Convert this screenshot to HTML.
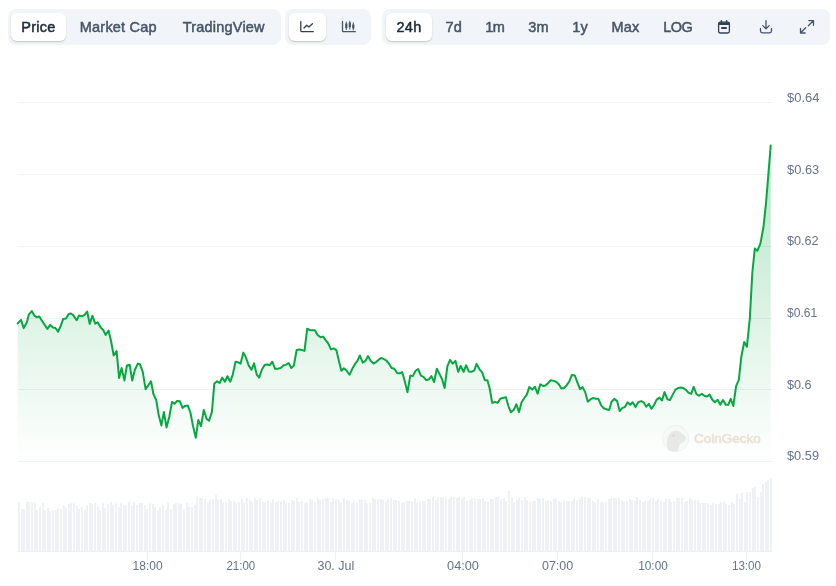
<!DOCTYPE html>
<html><head><meta charset="utf-8"><title>Price chart</title>
<style>
html,body{margin:0;padding:0;background:#fff;}
body{width:836px;height:586px;overflow:hidden;position:relative;font-family:"Liberation Sans",sans-serif;}
.grp{position:absolute;top:9px;height:36px;background:#f1f5f9;border-radius:8px;}
.pill{position:absolute;top:4px;height:28px;background:#fff;border-radius:6px;box-shadow:0 1px 1.5px rgba(120,95,70,.32);}
.lb{position:absolute;top:0;height:36px;line-height:36px;font-size:14.5px;font-weight:400;letter-spacing:.2px;-webkit-text-stroke:.5px #475569;color:#475569;white-space:nowrap;transform:translateX(-50%);}
.lb.sel{color:#1e293b;-webkit-text-stroke-color:#1e293b;}
.ic{position:absolute;top:0;}
svg text{font-family:"Liberation Sans",sans-serif;}
</style></head><body>
<div class="grp" style="left:8px;width:273px">
 <div class="pill" style="left:3px;width:55px"></div>
 <span class="lb sel" style="left:30.4px">Price</span>
 <span class="lb" style="left:110.3px">Market Cap</span>
 <span class="lb" style="left:215.8px">TradingView</span>
</div>
<div class="grp" style="left:285px;width:86px">
 <div class="pill" style="left:4px;width:37px"></div>
 <svg class="ic" style="left:14px;top:11px" width="16" height="14" viewBox="0 0 16 14" fill="none" stroke="#334155" stroke-width="1.3" stroke-linecap="round" stroke-linejoin="round"><path d="M1.8 1.5v9.2q0 1 1 1h11.5"/><path d="M5 8l2.7-2.8 2.2 1.8 3.6-3.2"/></svg>
 <svg class="ic" style="left:56px;top:11px" width="16" height="14" viewBox="0 0 16 14" fill="none" stroke="#475569" stroke-width="1.3" stroke-linecap="round" stroke-linejoin="round"><path d="M1.5 1.5v9.2q0 1 1 1h11.8"/><path d="M5.3 2v7.6M8.8 1.2v8M12.3 2.8v7.2" stroke-width="1"/><path d="M5.3 3.6v4.6M8.8 2.6v4.6M12.3 4.6v3.8" stroke-width="2.2" stroke-linecap="butt"/></svg>
</div>
<div class="grp" style="left:382px;width:448px">
 <div class="pill" style="left:3.500px;width:46.500px"></div>
 <span class="lb sel" style="left:27px">24h</span>
 <span class="lb" style="left:71.8px">7d</span>
 <span class="lb" style="left:112.800px;letter-spacing:-.4px">1m</span>
 <span class="lb" style="left:156.5px">3m</span>
 <span class="lb" style="left:198px">1y</span>
 <span class="lb" style="left:243.5px">Max</span>
 <span class="lb" style="left:295.800px;letter-spacing:-.5px">LOG</span>
 <svg class="ic" style="left:334.2px;top:10px" width="16" height="16" viewBox="0 0 16 16" fill="none" stroke="#334155" stroke-width="1.3" stroke-linejoin="round"><rect x="2.6" y="3.2" width="10.8" height="10.8" rx="1.7"/><path d="M2.6 4.7h10.8" stroke-width="2.6"/><path d="M5.4 1.8v1.6M10.6 1.8v1.6" stroke-linecap="round" stroke-width="1.5"/><path d="M5.2 9h5.6" stroke-width="2"/></svg>
 <svg class="ic" style="left:375.7px;top:10px" width="16" height="16" viewBox="0 0 16 16" fill="none" stroke="#475569" stroke-width="1.3" stroke-linecap="round" stroke-linejoin="round"><path d="M8 1.600v8M4.800 6.600L8 9.800l3.200-3.200"/><path d="M2.500 9.400v2.700q0 1.800 1.800 1.800h7.400q1.800 0 1.800-1.800V9.400"/></svg>
 <svg class="ic" style="left:417.1px;top:10px" width="16" height="16" viewBox="0 0 16 16" fill="none" stroke="#475569" stroke-width="1.3" stroke-linecap="round" stroke-linejoin="round"><path d="M9.800 1.600h4.700v4.700M14.300 1.800L9.300 6.800M6.200 14H1.500V9.300M1.700 13.800l5-5"/></svg>
</div>
<svg width="836" height="586" viewBox="0 0 836 586" style="position:absolute;left:0;top:0">
<defs><linearGradient id="g" gradientUnits="userSpaceOnUse" x1="0" y1="145" x2="0" y2="461"><stop offset="0" stop-color="#06a840" stop-opacity=".30"/><stop offset="1" stop-color="#06a840" stop-opacity="0"/></linearGradient></defs>
<g stroke="#eef1f5" stroke-width="1" shape-rendering="crispEdges"><line x1="18" x2="772" y1="102.5" y2="102.5"/><line x1="18" x2="772" y1="174.5" y2="174.5"/><line x1="18" x2="772" y1="246.5" y2="246.5"/><line x1="18" x2="772" y1="318.5" y2="318.5"/><line x1="18" x2="772" y1="389.5" y2="389.5"/><line x1="18" x2="772" y1="461.5" y2="461.5"/></g>
<g fill="#eef1f5" shape-rendering="crispEdges"><rect x="18" y="502" width="2" height="49"/><rect x="21" y="509" width="2" height="42"/><rect x="23" y="509" width="2" height="42"/><rect x="26" y="502" width="2" height="49"/><rect x="28" y="502" width="2" height="49"/><rect x="31" y="502" width="2" height="49"/><rect x="34" y="502" width="2" height="49"/><rect x="36" y="510" width="2" height="41"/><rect x="39" y="507" width="2" height="44"/><rect x="42" y="503" width="2" height="48"/><rect x="44" y="510" width="2" height="41"/><rect x="47" y="508" width="2" height="43"/><rect x="49" y="511" width="2" height="40"/><rect x="52" y="510" width="2" height="41"/><rect x="55" y="510" width="2" height="41"/><rect x="57" y="508" width="2" height="43"/><rect x="60" y="509" width="2" height="42"/><rect x="63" y="505" width="2" height="46"/><rect x="65" y="508" width="2" height="43"/><rect x="68" y="504" width="2" height="47"/><rect x="70" y="503" width="2" height="48"/><rect x="73" y="503" width="2" height="48"/><rect x="76" y="506" width="2" height="45"/><rect x="78" y="509" width="2" height="42"/><rect x="81" y="507" width="2" height="44"/><rect x="84" y="510" width="2" height="41"/><rect x="86" y="505" width="2" height="46"/><rect x="89" y="503" width="2" height="48"/><rect x="91" y="504" width="2" height="47"/><rect x="94" y="503" width="2" height="48"/><rect x="97" y="507" width="2" height="44"/><rect x="99" y="510" width="2" height="41"/><rect x="102" y="503" width="2" height="48"/><rect x="104" y="508" width="2" height="43"/><rect x="107" y="504" width="2" height="47"/><rect x="110" y="502" width="2" height="49"/><rect x="112" y="505" width="2" height="46"/><rect x="115" y="503" width="2" height="48"/><rect x="118" y="507" width="2" height="44"/><rect x="120" y="503" width="2" height="48"/><rect x="123" y="506" width="2" height="45"/><rect x="125" y="505" width="2" height="46"/><rect x="128" y="502" width="2" height="49"/><rect x="131" y="506" width="2" height="45"/><rect x="133" y="502" width="2" height="49"/><rect x="136" y="505" width="2" height="46"/><rect x="139" y="503" width="2" height="48"/><rect x="141" y="503" width="2" height="48"/><rect x="144" y="505" width="2" height="46"/><rect x="146" y="509" width="2" height="42"/><rect x="149" y="503" width="2" height="48"/><rect x="152" y="504" width="2" height="47"/><rect x="154" y="507" width="2" height="44"/><rect x="157" y="510" width="2" height="41"/><rect x="159" y="507" width="2" height="44"/><rect x="162" y="505" width="2" height="46"/><rect x="165" y="510" width="2" height="41"/><rect x="167" y="502" width="2" height="49"/><rect x="170" y="509" width="2" height="42"/><rect x="173" y="504" width="2" height="47"/><rect x="175" y="503" width="2" height="48"/><rect x="178" y="503" width="2" height="48"/><rect x="180" y="504" width="2" height="47"/><rect x="183" y="509" width="2" height="42"/><rect x="186" y="503" width="2" height="48"/><rect x="188" y="507" width="2" height="44"/><rect x="191" y="507" width="2" height="44"/><rect x="194" y="505" width="2" height="46"/><rect x="196" y="497" width="2" height="54"/><rect x="199" y="498" width="2" height="53"/><rect x="201" y="498" width="2" height="53"/><rect x="204" y="499" width="2" height="52"/><rect x="207" y="502" width="2" height="49"/><rect x="209" y="500" width="2" height="51"/><rect x="212" y="499" width="2" height="52"/><rect x="215" y="495" width="2" height="56"/><rect x="217" y="500" width="2" height="51"/><rect x="220" y="499" width="2" height="52"/><rect x="222" y="502" width="2" height="49"/><rect x="225" y="502" width="2" height="49"/><rect x="228" y="499" width="2" height="52"/><rect x="230" y="501" width="2" height="50"/><rect x="233" y="501" width="2" height="50"/><rect x="235" y="503" width="2" height="48"/><rect x="238" y="502" width="2" height="49"/><rect x="241" y="499" width="2" height="52"/><rect x="243" y="503" width="2" height="48"/><rect x="246" y="498" width="2" height="53"/><rect x="249" y="500" width="2" height="51"/><rect x="251" y="502" width="2" height="49"/><rect x="254" y="498" width="2" height="53"/><rect x="256" y="500" width="2" height="51"/><rect x="259" y="498" width="2" height="53"/><rect x="262" y="502" width="2" height="49"/><rect x="264" y="502" width="2" height="49"/><rect x="267" y="501" width="2" height="50"/><rect x="270" y="503" width="2" height="48"/><rect x="272" y="499" width="2" height="52"/><rect x="275" y="502" width="2" height="49"/><rect x="277" y="501" width="2" height="50"/><rect x="280" y="501" width="2" height="50"/><rect x="283" y="500" width="2" height="51"/><rect x="285" y="503" width="2" height="48"/><rect x="288" y="503" width="2" height="48"/><rect x="291" y="500" width="2" height="51"/><rect x="293" y="501" width="2" height="50"/><rect x="296" y="498" width="2" height="53"/><rect x="298" y="502" width="2" height="49"/><rect x="301" y="501" width="2" height="50"/><rect x="304" y="503" width="2" height="48"/><rect x="306" y="502" width="2" height="49"/><rect x="309" y="499" width="2" height="52"/><rect x="311" y="500" width="2" height="51"/><rect x="314" y="502" width="2" height="49"/><rect x="317" y="498" width="2" height="53"/><rect x="319" y="500" width="2" height="51"/><rect x="322" y="499" width="2" height="52"/><rect x="325" y="498" width="2" height="53"/><rect x="327" y="498" width="2" height="53"/><rect x="330" y="502" width="2" height="49"/><rect x="332" y="498" width="2" height="53"/><rect x="335" y="499" width="2" height="52"/><rect x="338" y="500" width="2" height="51"/><rect x="340" y="503" width="2" height="48"/><rect x="343" y="498" width="2" height="53"/><rect x="346" y="500" width="2" height="51"/><rect x="348" y="501" width="2" height="50"/><rect x="351" y="503" width="2" height="48"/><rect x="353" y="502" width="2" height="49"/><rect x="356" y="503" width="2" height="48"/><rect x="359" y="499" width="2" height="52"/><rect x="361" y="500" width="2" height="51"/><rect x="364" y="500" width="2" height="51"/><rect x="366" y="503" width="2" height="48"/><rect x="369" y="503" width="2" height="48"/><rect x="372" y="498" width="2" height="53"/><rect x="374" y="499" width="2" height="52"/><rect x="377" y="499" width="2" height="52"/><rect x="380" y="499" width="2" height="52"/><rect x="382" y="500" width="2" height="51"/><rect x="385" y="501" width="2" height="50"/><rect x="387" y="499" width="2" height="52"/><rect x="390" y="498" width="2" height="53"/><rect x="393" y="500" width="2" height="51"/><rect x="395" y="500" width="2" height="51"/><rect x="398" y="501" width="2" height="50"/><rect x="401" y="503" width="2" height="48"/><rect x="403" y="502" width="2" height="49"/><rect x="406" y="501" width="2" height="50"/><rect x="408" y="501" width="2" height="50"/><rect x="411" y="502" width="2" height="49"/><rect x="414" y="498" width="2" height="53"/><rect x="416" y="503" width="2" height="48"/><rect x="419" y="502" width="2" height="49"/><rect x="422" y="501" width="2" height="50"/><rect x="424" y="501" width="2" height="50"/><rect x="427" y="499" width="2" height="52"/><rect x="429" y="499" width="2" height="52"/><rect x="432" y="497" width="2" height="54"/><rect x="435" y="500" width="2" height="51"/><rect x="437" y="497" width="2" height="54"/><rect x="440" y="497" width="2" height="54"/><rect x="442" y="498" width="2" height="53"/><rect x="445" y="498" width="2" height="53"/><rect x="448" y="499" width="2" height="52"/><rect x="450" y="497" width="2" height="54"/><rect x="453" y="497" width="2" height="54"/><rect x="456" y="498" width="2" height="53"/><rect x="458" y="497" width="2" height="54"/><rect x="461" y="499" width="2" height="52"/><rect x="463" y="497" width="2" height="54"/><rect x="466" y="501" width="2" height="50"/><rect x="469" y="500" width="2" height="51"/><rect x="471" y="498" width="2" height="53"/><rect x="474" y="498" width="2" height="53"/><rect x="477" y="499" width="2" height="52"/><rect x="479" y="499" width="2" height="52"/><rect x="482" y="498" width="2" height="53"/><rect x="484" y="501" width="2" height="50"/><rect x="487" y="502" width="2" height="49"/><rect x="490" y="499" width="2" height="52"/><rect x="492" y="499" width="2" height="52"/><rect x="495" y="497" width="2" height="54"/><rect x="497" y="497" width="2" height="54"/><rect x="500" y="499" width="2" height="52"/><rect x="503" y="498" width="2" height="53"/><rect x="505" y="501" width="2" height="50"/><rect x="508" y="491" width="2" height="60"/><rect x="511" y="497" width="2" height="54"/><rect x="513" y="502" width="2" height="49"/><rect x="516" y="500" width="2" height="51"/><rect x="518" y="498" width="2" height="53"/><rect x="521" y="500" width="2" height="51"/><rect x="524" y="497" width="2" height="54"/><rect x="526" y="500" width="2" height="51"/><rect x="529" y="502" width="2" height="49"/><rect x="532" y="501" width="2" height="50"/><rect x="534" y="501" width="2" height="50"/><rect x="537" y="498" width="2" height="53"/><rect x="539" y="499" width="2" height="52"/><rect x="542" y="498" width="2" height="53"/><rect x="545" y="501" width="2" height="50"/><rect x="547" y="500" width="2" height="51"/><rect x="550" y="501" width="2" height="50"/><rect x="553" y="499" width="2" height="52"/><rect x="555" y="498" width="2" height="53"/><rect x="558" y="501" width="2" height="50"/><rect x="560" y="502" width="2" height="49"/><rect x="563" y="501" width="2" height="50"/><rect x="566" y="501" width="2" height="50"/><rect x="568" y="501" width="2" height="50"/><rect x="571" y="501" width="2" height="50"/><rect x="573" y="498" width="2" height="53"/><rect x="576" y="500" width="2" height="51"/><rect x="579" y="499" width="2" height="52"/><rect x="581" y="497" width="2" height="54"/><rect x="584" y="497" width="2" height="54"/><rect x="587" y="498" width="2" height="53"/><rect x="589" y="498" width="2" height="53"/><rect x="592" y="501" width="2" height="50"/><rect x="594" y="502" width="2" height="49"/><rect x="597" y="499" width="2" height="52"/><rect x="600" y="502" width="2" height="49"/><rect x="602" y="502" width="2" height="49"/><rect x="605" y="502" width="2" height="49"/><rect x="608" y="499" width="2" height="52"/><rect x="610" y="498" width="2" height="53"/><rect x="613" y="498" width="2" height="53"/><rect x="615" y="498" width="2" height="53"/><rect x="618" y="498" width="2" height="53"/><rect x="621" y="500" width="2" height="51"/><rect x="623" y="502" width="2" height="49"/><rect x="626" y="501" width="2" height="50"/><rect x="629" y="499" width="2" height="52"/><rect x="631" y="500" width="2" height="51"/><rect x="634" y="501" width="2" height="50"/><rect x="636" y="497" width="2" height="54"/><rect x="639" y="500" width="2" height="51"/><rect x="642" y="502" width="2" height="49"/><rect x="644" y="501" width="2" height="50"/><rect x="647" y="501" width="2" height="50"/><rect x="649" y="499" width="2" height="52"/><rect x="652" y="498" width="2" height="53"/><rect x="655" y="501" width="2" height="50"/><rect x="657" y="499" width="2" height="52"/><rect x="660" y="501" width="2" height="50"/><rect x="663" y="502" width="2" height="49"/><rect x="665" y="499" width="2" height="52"/><rect x="668" y="499" width="2" height="52"/><rect x="670" y="502" width="2" height="49"/><rect x="673" y="501" width="2" height="50"/><rect x="676" y="498" width="2" height="53"/><rect x="678" y="498" width="2" height="53"/><rect x="681" y="498" width="2" height="53"/><rect x="684" y="502" width="2" height="49"/><rect x="686" y="501" width="2" height="50"/><rect x="689" y="498" width="2" height="53"/><rect x="691" y="500" width="2" height="51"/><rect x="694" y="500" width="2" height="51"/><rect x="697" y="500" width="2" height="51"/><rect x="699" y="503" width="2" height="48"/><rect x="702" y="503" width="2" height="48"/><rect x="704" y="503" width="2" height="48"/><rect x="707" y="503" width="2" height="48"/><rect x="710" y="505" width="2" height="46"/><rect x="712" y="503" width="2" height="48"/><rect x="715" y="504" width="2" height="47"/><rect x="718" y="504" width="2" height="47"/><rect x="720" y="502" width="2" height="49"/><rect x="723" y="502" width="2" height="49"/><rect x="725" y="504" width="2" height="47"/><rect x="728" y="505" width="2" height="46"/><rect x="731" y="502" width="2" height="49"/><rect x="733" y="504" width="2" height="47"/><rect x="736" y="494" width="2" height="57"/><rect x="739" y="499" width="2" height="52"/><rect x="741" y="493" width="2" height="58"/><rect x="744" y="502" width="2" height="49"/><rect x="746" y="492" width="2" height="59"/><rect x="749" y="492" width="2" height="59"/><rect x="752" y="488" width="2" height="63"/><rect x="754" y="487" width="2" height="64"/><rect x="757" y="497" width="2" height="54"/><rect x="760" y="492" width="2" height="59"/><rect x="762" y="484" width="2" height="67"/><rect x="765" y="482" width="2" height="69"/><rect x="767" y="480" width="2" height="71"/><rect x="770" y="478" width="2" height="73"/></g>
<g stroke="#eceff3" stroke-width="1" shape-rendering="crispEdges"><line x1="17" x2="772" y1="551.5" y2="551.5"/><line x1="147.5" x2="147.5" y1="551" y2="561"/><line x1="240.5" x2="240.5" y1="551" y2="561"/><line x1="335.5" x2="335.5" y1="551" y2="561"/><line x1="462.5" x2="462.5" y1="551" y2="561"/><line x1="557.5" x2="557.5" y1="551" y2="561"/><line x1="652.5" x2="652.5" y1="551" y2="561"/><line x1="746.5" x2="746.5" y1="551" y2="561"/></g>
<path d="M17.7 323.4 L21.0 319.9 L23.7 328.1 L26.8 322.4 L28.7 314.9 L31.8 311.0 L34.3 315.6 L36.8 317.2 L39.3 316.4 L42.6 321.8 L47.4 328.9 L50.1 324.9 L53.0 327.6 L55.5 328.0 L58.0 331.8 L60.4 326.8 L63.2 318.9 L66.0 318.4 L68.5 314.3 L71.0 313.4 L73.5 315.6 L76.6 320.2 L79.1 315.6 L82.2 316.2 L84.5 314.9 L87.2 311.5 L89.7 323.9 L92.4 315.9 L95.3 323.7 L97.8 322.4 L100.7 327.6 L103.2 329.9 L105.6 334.9 L108.6 330.5 L111.0 340.8 L113.7 355.5 L116.6 351.1 L119.1 377.9 L121.6 367.9 L124.4 380.4 L126.9 365.5 L129.7 364.8 L132.2 380.4 L134.9 369.8 L137.8 363.6 L139.9 364.2 L142.7 371.7 L145.6 389.2 L148.3 385.4 L151.0 381.3 L153.4 394.0 L156.2 400.0 L158.7 415.0 L161.4 425.5 L163.9 411.9 L166.5 427.4 L169.3 416.8 L172.0 401.9 L174.6 403.8 L177.1 400.9 L179.9 401.3 L182.6 407.9 L185.1 405.9 L187.7 405.4 L190.4 412.5 L192.9 425.5 L195.8 437.8 L198.3 419.9 L201.0 426.2 L203.8 410.0 L206.6 418.7 L209.1 420.8 L211.9 411.9 L214.3 383.8 L217.0 381.3 L219.7 383.0 L222.2 377.6 L224.9 381.7 L227.5 376.2 L230.3 381.7 L232.7 374.8 L235.6 361.7 L238.1 362.3 L240.6 363.6 L243.4 352.6 L245.9 357.4 L248.7 365.5 L251.4 369.8 L254.0 363.3 L256.8 374.8 L259.2 377.5 L262.0 369.2 L264.9 364.8 L267.3 364.6 L269.8 365.1 L272.3 361.7 L275.1 368.8 L277.9 368.8 L280.7 367.9 L283.3 365.5 L286.0 364.6 L288.5 363.0 L291.3 367.9 L293.9 365.5 L296.6 350.1 L299.4 349.6 L302.0 350.1 L304.5 350.9 L307.2 328.7 L309.9 330.0 L312.5 330.2 L314.9 330.2 L317.8 335.2 L320.6 337.2 L323.1 336.6 L325.8 340.3 L328.1 343.1 L331.0 349.3 L333.7 348.4 L336.4 350.2 L338.7 359.9 L341.4 370.8 L343.9 368.3 L346.5 370.5 L349.5 374.8 L352.4 368.6 L354.9 364.2 L357.4 360.9 L359.9 355.5 L362.7 362.6 L365.5 360.9 L367.9 356.1 L370.8 361.1 L373.5 363.6 L376.0 362.1 L378.5 359.9 L381.0 358.0 L383.5 358.9 L386.3 360.5 L388.9 363.6 L391.6 368.0 L394.3 368.8 L397.2 373.3 L399.7 373.3 L402.2 372.1 L404.9 381.7 L407.5 392.2 L410.3 375.4 L412.8 376.1 L415.6 370.8 L418.1 369.0 L420.9 375.6 L423.5 376.9 L426.2 380.1 L428.7 379.6 L431.4 376.1 L434.1 382.1 L436.8 368.7 L439.5 373.9 L442.1 379.2 L444.6 388.0 L447.4 366.2 L450.1 359.9 L452.7 363.7 L455.5 360.9 L458.2 371.8 L460.7 365.9 L463.6 371.8 L466.1 365.2 L468.8 371.4 L471.4 371.8 L474.2 370.5 L476.6 363.9 L479.5 369.3 L482.2 372.4 L484.7 379.9 L487.5 380.5 L489.7 388.6 L492.2 402.9 L495.0 402.0 L497.6 402.9 L500.3 398.8 L503.0 397.9 L505.9 397.3 L508.4 406.0 L510.9 412.3 L513.8 409.8 L516.4 404.2 L519.0 412.1 L521.6 402.3 L524.3 398.0 L526.8 394.6 L529.3 387.1 L532.2 389.6 L534.9 386.8 L537.6 393.6 L540.3 384.3 L543.0 385.9 L545.5 385.5 L548.2 383.0 L550.8 380.2 L553.6 380.9 L556.1 381.8 L558.8 384.3 L561.4 388.6 L564.2 388.0 L566.7 385.1 L569.4 381.2 L571.9 374.9 L574.8 375.5 L577.2 381.8 L580.0 389.2 L582.6 387.1 L585.3 392.4 L587.8 401.7 L590.6 399.2 L593.2 398.0 L595.9 398.8 L598.4 398.8 L601.2 405.4 L603.8 408.3 L606.5 409.2 L609.2 410.0 L611.6 401.7 L614.3 398.9 L617.1 401.1 L619.7 411.1 L622.4 407.9 L624.9 407.1 L627.7 402.3 L630.3 404.8 L632.6 402.3 L635.5 407.1 L638.3 402.1 L641.1 401.1 L643.6 402.3 L646.3 406.7 L648.8 403.8 L651.5 408.8 L654.2 404.8 L656.7 399.6 L659.4 397.6 L662.0 400.5 L664.5 392.1 L667.3 399.2 L670.0 400.1 L672.6 394.9 L675.4 389.6 L678.1 388.0 L680.7 387.6 L683.2 388.0 L685.9 389.9 L688.4 392.6 L691.2 393.9 L693.7 386.9 L696.4 394.0 L699.1 395.8 L701.8 393.7 L704.3 395.8 L706.8 396.6 L709.6 394.5 L712.2 399.5 L714.9 402.3 L717.6 399.8 L720.3 404.8 L723.0 400.0 L725.7 404.8 L728.2 404.8 L730.7 398.8 L733.3 406.0 L736.1 386.1 L738.8 379.9 L741.4 356.2 L744.2 342.0 L746.9 346.8 L749.8 318.6 L752.3 273.0 L754.8 248.6 L757.3 250.8 L760.4 243.6 L763.5 226.8 L766.0 203.0 L768.4 174.0 L770.7 145.6 L770.7 461.5 L17.7 461.5 Z" fill="url(#g)"/>
<g opacity=".6"><circle cx="675.7" cy="438.5" r="13" fill="#f7f8f5" stroke="#e4e6ee" stroke-width="1"/><path d="M667.6 449.6C666 444 667 437 670.2 433.5c2-2.3 4-3.1 5.8-3.1 2 0 3.600 .900 5 2.200l4.600 4.200c.5 1.500 .2 3.200-.7 4.200-1 1.200-2.500 2-3.900 2.500-.9 .4-1.500 2.200-2.100 4.200-.4 1.300-.8 2.600-1.200 3.300-3 1.300-7 .9-10.100-1.400z" fill="#d9dcd8"/><circle cx="673.6" cy="435.6" r="1.300" fill="#e8c08e"/>
<text x="694" y="443.300" font-size="13.500" font-weight="400" stroke="#e0d0be" stroke-width=".7" fill="#e0d0be">CoinGecko</text></g>
<path d="M17.7 323.4 L21.0 319.9 L23.7 328.1 L26.8 322.4 L28.7 314.9 L31.8 311.0 L34.3 315.6 L36.8 317.2 L39.3 316.4 L42.6 321.8 L47.4 328.9 L50.1 324.9 L53.0 327.6 L55.5 328.0 L58.0 331.8 L60.4 326.8 L63.2 318.9 L66.0 318.4 L68.5 314.3 L71.0 313.4 L73.5 315.6 L76.6 320.2 L79.1 315.6 L82.2 316.2 L84.5 314.9 L87.2 311.5 L89.7 323.9 L92.4 315.9 L95.3 323.7 L97.8 322.4 L100.7 327.6 L103.2 329.9 L105.6 334.9 L108.6 330.5 L111.0 340.8 L113.7 355.5 L116.6 351.1 L119.1 377.9 L121.6 367.9 L124.4 380.4 L126.9 365.5 L129.7 364.8 L132.2 380.4 L134.9 369.8 L137.8 363.6 L139.9 364.2 L142.7 371.7 L145.6 389.2 L148.3 385.4 L151.0 381.3 L153.4 394.0 L156.2 400.0 L158.7 415.0 L161.4 425.5 L163.9 411.9 L166.5 427.4 L169.3 416.8 L172.0 401.9 L174.6 403.8 L177.1 400.9 L179.9 401.3 L182.6 407.9 L185.1 405.9 L187.7 405.4 L190.4 412.5 L192.9 425.5 L195.8 437.8 L198.3 419.9 L201.0 426.2 L203.8 410.0 L206.6 418.7 L209.1 420.8 L211.9 411.9 L214.3 383.8 L217.0 381.3 L219.7 383.0 L222.2 377.6 L224.9 381.7 L227.5 376.2 L230.3 381.7 L232.7 374.8 L235.6 361.7 L238.1 362.3 L240.6 363.6 L243.4 352.6 L245.9 357.4 L248.7 365.5 L251.4 369.8 L254.0 363.3 L256.8 374.8 L259.2 377.5 L262.0 369.2 L264.9 364.8 L267.3 364.6 L269.8 365.1 L272.3 361.7 L275.1 368.8 L277.9 368.8 L280.7 367.9 L283.3 365.5 L286.0 364.6 L288.5 363.0 L291.3 367.9 L293.9 365.5 L296.6 350.1 L299.4 349.6 L302.0 350.1 L304.5 350.9 L307.2 328.7 L309.9 330.0 L312.5 330.2 L314.9 330.2 L317.8 335.2 L320.6 337.2 L323.1 336.6 L325.8 340.3 L328.1 343.1 L331.0 349.3 L333.7 348.4 L336.4 350.2 L338.7 359.9 L341.4 370.8 L343.9 368.3 L346.5 370.5 L349.5 374.8 L352.4 368.6 L354.9 364.2 L357.4 360.9 L359.9 355.5 L362.7 362.6 L365.5 360.9 L367.9 356.1 L370.8 361.1 L373.5 363.6 L376.0 362.1 L378.5 359.9 L381.0 358.0 L383.5 358.9 L386.3 360.5 L388.9 363.6 L391.6 368.0 L394.3 368.8 L397.2 373.3 L399.7 373.3 L402.2 372.1 L404.9 381.7 L407.5 392.2 L410.3 375.4 L412.8 376.1 L415.6 370.8 L418.1 369.0 L420.9 375.6 L423.5 376.9 L426.2 380.1 L428.7 379.6 L431.4 376.1 L434.1 382.1 L436.8 368.7 L439.5 373.9 L442.1 379.2 L444.6 388.0 L447.4 366.2 L450.1 359.9 L452.7 363.7 L455.5 360.9 L458.2 371.8 L460.7 365.9 L463.6 371.8 L466.1 365.2 L468.8 371.4 L471.4 371.8 L474.2 370.5 L476.6 363.9 L479.5 369.3 L482.2 372.4 L484.7 379.9 L487.5 380.5 L489.7 388.6 L492.2 402.9 L495.0 402.0 L497.6 402.9 L500.3 398.8 L503.0 397.9 L505.9 397.3 L508.4 406.0 L510.9 412.3 L513.8 409.8 L516.4 404.2 L519.0 412.1 L521.6 402.3 L524.3 398.0 L526.8 394.6 L529.3 387.1 L532.2 389.6 L534.9 386.8 L537.6 393.6 L540.3 384.3 L543.0 385.9 L545.5 385.5 L548.2 383.0 L550.8 380.2 L553.6 380.9 L556.1 381.8 L558.8 384.3 L561.4 388.6 L564.2 388.0 L566.7 385.1 L569.4 381.2 L571.9 374.9 L574.8 375.5 L577.2 381.8 L580.0 389.2 L582.6 387.1 L585.3 392.4 L587.8 401.7 L590.6 399.2 L593.2 398.0 L595.9 398.8 L598.4 398.8 L601.2 405.4 L603.8 408.3 L606.5 409.2 L609.2 410.0 L611.6 401.7 L614.3 398.9 L617.1 401.1 L619.7 411.1 L622.4 407.9 L624.9 407.1 L627.7 402.3 L630.3 404.8 L632.6 402.3 L635.5 407.1 L638.3 402.1 L641.1 401.1 L643.6 402.3 L646.3 406.7 L648.8 403.8 L651.5 408.8 L654.2 404.8 L656.7 399.6 L659.4 397.6 L662.0 400.5 L664.5 392.1 L667.3 399.2 L670.0 400.1 L672.6 394.9 L675.4 389.6 L678.1 388.0 L680.7 387.6 L683.2 388.0 L685.9 389.9 L688.4 392.6 L691.2 393.9 L693.7 386.9 L696.4 394.0 L699.1 395.8 L701.8 393.7 L704.3 395.8 L706.8 396.6 L709.6 394.5 L712.2 399.5 L714.9 402.3 L717.6 399.8 L720.3 404.8 L723.0 400.0 L725.7 404.8 L728.2 404.8 L730.7 398.8 L733.3 406.0 L736.1 386.1 L738.8 379.9 L741.4 356.2 L744.2 342.0 L746.9 346.8 L749.8 318.6 L752.3 273.0 L754.8 248.6 L757.3 250.8 L760.4 243.6 L763.5 226.8 L766.0 203.0 L768.4 174.0 L770.7 145.6" fill="none" stroke="#06a840" stroke-width="2" stroke-linejoin="round" stroke-linecap="round"/>
<g font-size="12.9" fill="#64748b"><text x="787" y="101.8" textLength="32.5" lengthAdjust="spacingAndGlyphs">$0.64</text><text x="787" y="173.5" textLength="32.2" lengthAdjust="spacingAndGlyphs">$0.63</text><text x="787" y="245.2" textLength="31.6" lengthAdjust="spacingAndGlyphs">$0.62</text><text x="787" y="316.8" textLength="30.2" lengthAdjust="spacingAndGlyphs">$0.61</text><text x="787" y="388.5" textLength="24.6" lengthAdjust="spacingAndGlyphs">$0.6</text><text x="787" y="460.3" textLength="32" lengthAdjust="spacingAndGlyphs">$0.59</text></g>
<g font-size="12" fill="#64748b"><text x="147.6" y="569.6" text-anchor="middle" textLength="30" lengthAdjust="spacingAndGlyphs">18:00</text><text x="240.8" y="569.6" text-anchor="middle" textLength="28.8" lengthAdjust="spacingAndGlyphs">21:00</text><text x="335.9" y="569.6" text-anchor="middle" textLength="36.9" lengthAdjust="spacingAndGlyphs">30. Jul</text><text x="463.0" y="569.6" text-anchor="middle" textLength="31.9" lengthAdjust="spacingAndGlyphs">04:00</text><text x="557.6" y="569.6" text-anchor="middle" textLength="31.3" lengthAdjust="spacingAndGlyphs">07:00</text><text x="653.0" y="569.6" text-anchor="middle" textLength="29.6" lengthAdjust="spacingAndGlyphs">10:00</text><text x="746.5" y="569.6" text-anchor="middle" textLength="29.2" lengthAdjust="spacingAndGlyphs">13:00</text></g>
</svg>
</body></html>
